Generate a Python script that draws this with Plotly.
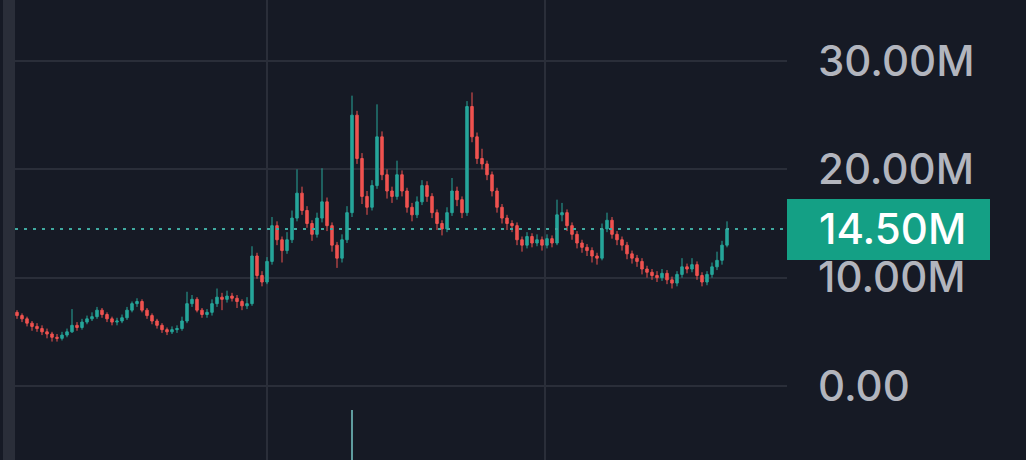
import plotly.graph_objects as go

# ---- data (values in millions) ----
open_m = [6.8,6.5,6.2,5.8,5.5,5.3,5.0,4.8,4.5,4.4,
 4.7,5.0,5.6,5.4,5.9,6.2,6.4,7.0,6.6,6.2,
 5.9,6.0,6.3,7.0,7.6,7.8,7.0,6.5,6.0,5.6,
 5.2,5.0,5.2,5.3,6.0,7.6,8.0,7.0,6.6,6.8,
 7.6,8.2,8.0,8.3,8.1,7.8,7.4,7.6,12.0,10.2,
 9.6,11.5,14.8,13.5,12.5,13.5,15.5,17.8,16.2,15.0,
 14.0,15.5,17.0,14.8,13.0,11.8,13.5,16.0,25.0,21.0,
 17.5,16.5,18.5,23.0,19.5,18.0,17.5,19.5,18.0,16.5,
 15.8,17.0,18.5,17.5,16.0,15.0,14.5,16.0,18.0,17.2,
 16.0,25.8,23.0,21.0,20.5,19.5,18.0,16.5,15.5,15.0,
 14.8,13.5,13.0,13.8,13.2,13.5,13.0,13.6,13.2,15.8,
 16.0,14.8,14.0,13.2,12.8,12.5,12.0,11.8,14.5,15.3,
 14.0,13.5,13.0,12.2,11.8,11.5,10.8,10.5,10.2,10.0,
 10.4,9.8,9.5,10.3,11.0,10.8,11.2,10.2,9.6,10.3,
 11.0,11.6,13.0]
close_m = [6.5,6.2,5.8,5.5,5.3,5.0,4.8,4.5,4.4,4.7,
 5.0,5.6,5.4,5.9,6.2,6.4,7.0,6.6,6.2,5.9,
 6.0,6.3,7.0,7.6,7.8,7.0,6.5,6.0,5.6,5.2,
 5.0,5.2,5.3,6.0,7.6,8.0,7.0,6.6,6.8,7.6,
 8.2,8.0,8.3,8.1,7.8,7.4,7.6,12.0,10.2,9.6,
 11.5,14.8,13.5,12.5,13.5,15.5,17.8,16.2,15.0,14.0,
 15.5,17.0,14.8,13.0,11.8,13.5,16.0,25.0,21.0,17.5,
 16.5,18.5,23.0,19.5,18.0,17.5,19.5,18.0,16.5,15.8,
 17.0,18.5,17.5,16.0,15.0,14.5,16.0,18.0,17.2,16.0,
 25.8,23.0,21.0,20.5,19.5,18.0,16.5,15.5,15.0,14.8,
 13.5,13.0,13.8,13.2,13.5,13.0,13.6,13.2,15.8,16.0,
 14.8,14.0,13.2,12.8,12.5,12.0,11.8,14.5,15.3,14.0,
 13.5,13.0,12.2,11.8,11.5,10.8,10.5,10.2,10.0,10.4,
 9.8,9.5,10.3,11.0,10.8,11.2,10.2,9.6,10.3,11.0,
 11.6,13.0,14.5]
high_m = [7.0,6.7,6.4,6.0,5.8,5.6,5.3,5.0,4.8,5.0,
 5.3,7.1,5.9,6.2,6.5,6.8,7.3,7.2,6.8,6.4,
 6.3,6.6,7.3,7.8,8.1,8.0,7.2,6.7,6.2,5.8,
 5.4,5.5,5.6,6.4,8.7,8.4,8.2,7.2,7.1,8.0,
 9.0,8.6,8.8,8.6,8.4,8.0,8.2,12.9,12.3,10.6,
 11.9,15.6,15.2,13.8,14.2,16.2,20.0,18.4,16.6,15.3,
 16.0,20.1,17.4,15.1,13.3,14.0,16.6,26.8,25.4,21.5,
 18.0,19.0,26.0,23.5,20.0,18.4,20.8,19.9,18.3,16.9,
 17.5,19.0,18.9,17.8,16.3,15.3,16.5,19.2,18.4,17.5,
 26.3,27.1,23.4,21.9,20.8,19.8,18.3,16.8,15.8,15.3,
 15.1,13.8,14.2,14.1,14.0,13.8,14.0,13.9,17.2,16.9,
 16.3,15.1,14.3,13.5,13.1,12.8,12.3,15.0,16.0,15.6,
 14.3,13.8,13.3,12.5,12.1,11.8,11.1,10.8,10.6,10.8,
 10.7,10.1,10.6,11.8,11.3,11.8,11.5,10.5,10.6,11.4,
 12.4,13.4,15.2]
low_m = [6.2,5.9,5.5,5.1,5.0,4.7,4.4,4.1,4.1,4.2,
 4.5,4.9,5.1,5.2,5.7,6.0,6.2,6.3,5.9,5.6,
 5.6,5.8,6.1,6.8,7.3,6.8,6.2,5.7,5.3,4.9,
 4.7,4.8,4.9,5.1,5.8,7.3,6.8,6.3,6.3,6.5,
 7.3,7.0,7.7,7.8,7.2,7.0,7.1,7.4,9.9,9.2,
 9.4,11.2,13.0,11.4,12.2,13.2,15.2,15.8,14.6,13.4,
 13.7,15.1,14.3,12.4,10.9,11.4,13.2,15.6,20.5,16.8,
 15.8,16.2,18.2,19.0,17.3,16.9,17.2,17.5,16.0,15.2,
 15.5,16.7,17.0,15.5,14.4,13.9,14.2,15.7,16.6,15.5,
 15.7,22.5,20.5,20.0,19.0,17.5,16.0,15.0,14.4,14.2,
 13.0,12.4,12.7,12.8,12.9,12.5,12.7,12.8,13.0,15.2,
 14.3,13.5,12.7,12.3,12.0,11.4,11.2,11.6,14.2,13.6,
 13.0,12.5,11.7,11.3,11.0,10.3,10.0,9.8,9.6,9.7,
 9.4,9.0,9.2,10.0,10.4,10.5,9.8,9.2,9.3,10.0,
 10.7,11.2,12.8]
volume = [0.3]*67 + [60] + [0.3]*75
last_price_m = 14.5
y_ticks_m = [0, 10, 20, 30]
y_tick_text = ["0.00", "10.00M", "20.00M", "30.00M"]
last_label = "14.50M"

M = 1e6
n = len(close_m)
xs = list(range(n))
o = [v * M for v in open_m]
h = [v * M for v in high_m]
l = [v * M for v in low_m]
c = [v * M for v in close_m]

BG = "#161a25"
GRID = "#2a2e39"
UP = "#26a69a"
DOWN = "#ef5350"
FONT = dict(family="Inter", size=42, weight=500)

# pixel geometry helpers
plot_l, plot_r = 15, 787
spacing = 5.0
first_px = 17.0
x_lo = (plot_l - first_px) / spacing
x_hi = (plot_r - first_px) / spacing
px_per_m = (386 - 61) / 30.0
y_lo = (386 - 460) / px_per_m * M
y_hi = (386 - 0) / px_per_m * M

fig = go.Figure()
fig.add_trace(go.Bar(
    x=xs, y=volume, yaxis="y2", marker_color="rgba(120,200,200,0.75)",
    marker_line_width=0, width=0.35, showlegend=False, hoverinfo="skip"))
fig.add_trace(go.Candlestick(
    x=xs, open=o, high=h, low=l, close=c,
    increasing=dict(line=dict(color=UP, width=1), fillcolor=UP),
    decreasing=dict(line=dict(color=DOWN, width=1), fillcolor=DOWN),
    whiskerwidth=0, showlegend=False))

fig.update_layout(
    width=1026, height=460,
    margin=dict(l=plot_l, r=1026 - plot_r, t=0, b=0),
    paper_bgcolor=BG, plot_bgcolor=BG,
    showlegend=False,
    xaxis=dict(range=[x_lo, x_hi], rangeslider=dict(visible=False),
               tickvals=[(267 - first_px) / spacing, (545 - first_px) / spacing],
               showticklabels=False, ticks="", showgrid=True, gridcolor=GRID,
               gridwidth=2, zeroline=False, showline=False, fixedrange=True),
    yaxis=dict(range=[y_lo, y_hi], side="right",
               tickvals=[v * M for v in y_ticks_m], ticktext=y_tick_text,
               tickfont=dict(FONT, color="#b2b5be"),
               ticks="", ticklabelstandoff=30, showgrid=True, gridcolor=GRID,
               gridwidth=2, zeroline=False, showline=False),
    yaxis2=dict(overlaying="y", range=[0, 60 * 460 / 50], visible=False),
    bargap=0,
)

# dotted last-price line
fig.add_shape(type="line", xref="paper", x0=0, x1=1, yref="y",
              y0=last_price_m * M, y1=last_price_m * M,
              line=dict(color="#3fa9a0", width=2, dash="3px,6px"), layer="above")
# last price label box
fig.add_shape(type="rect", xref="paper", yref="paper",
              x0=1.0, x1=(990 - plot_l) / (plot_r - plot_l),
              y0=1 - 260 / 460, y1=1 - 199 / 460,
              fillcolor="#14a085", line=dict(width=0), layer="above")
fig.add_annotation(xref="paper", yref="y", x=(817 - plot_l) / (plot_r - plot_l),
                   y=last_price_m * M, xanchor="left", yanchor="middle",
                   text=last_label, showarrow=False,
                   font=dict(FONT, color="#ffffff"))
# left edge strip
fig.add_shape(type="rect", xref="paper", yref="paper",
              x0=(3 - plot_l) / (plot_r - plot_l), x1=0, y0=0, y1=1,
              fillcolor="#2a2e39", line=dict(width=0), layer="above")

fig.write_html("out.html", config={"displayModeBar": False},
               post_script="document.body.style.margin='0';document.body.style.background='%s';" % BG)
